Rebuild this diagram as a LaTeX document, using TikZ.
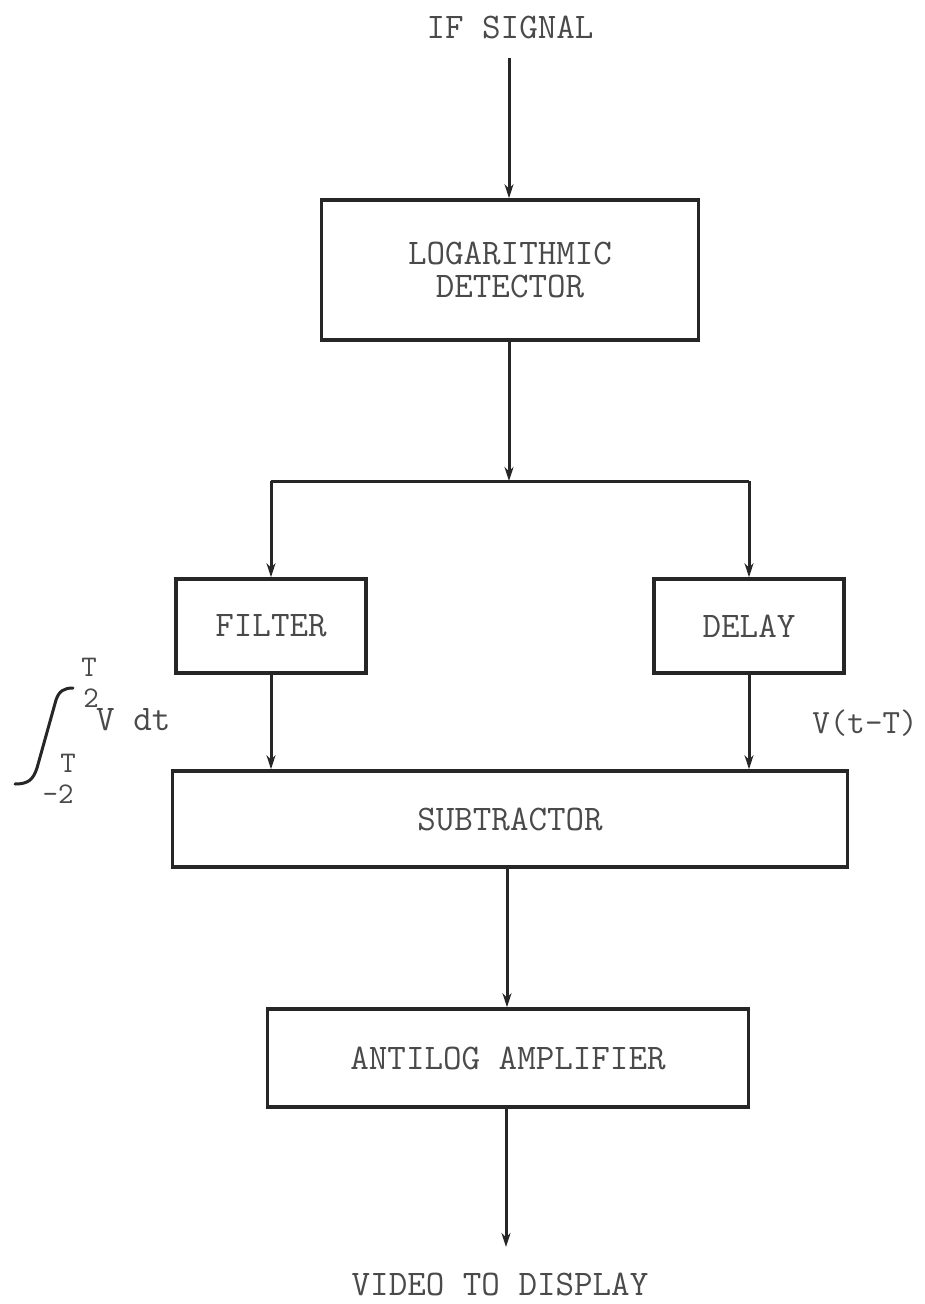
\documentclass[tikz,border=0pt]{standalone}
\usepackage{fontspec}
\usetikzlibrary{arrows.meta,positioning,calc}
\definecolor{dgInk}{HTML}{262626}
\definecolor{dgText}{HTML}{4A4A4A}
\tikzset{
  dgbox/.style={
    draw=dgInk, line width=3.6pt, minimum height=94pt, minimum width=190pt,
    font=\ttfamily\fontsize{36}{33}\selectfont, text=dgText, align=center,
    inner sep=0pt
  },
  dgtext/.style={font=\ttfamily\fontsize{36}{40}\selectfont, text=dgText, inner sep=0pt},
  dglimit/.style={font=\ttfamily\fontsize{30}{34}\selectfont, text=dgText, inner sep=0pt},
  dgflow/.style={-{Stealth[length=14pt,width=9pt]}, line width=3pt, dgInk},
  dgline/.style={line width=3pt, dgInk}
}
\begin{document}
\begin{tikzpicture}[x=1pt, y=-1pt]
  \useasboundingbox (0,0) rectangle (924,1304);
  % input and output labels
  \node[dgtext] (ifsig) at (510,27) {IF SIGNAL};
  \node[dgtext] (video) at (500,1284) {VIDEO TO DISPLAY};
  \coordinate (inp) at (509,58);
  \coordinate (outp) at (506,1247);
  \coordinate (split) at (509,481);
  % blocks
  \node[dgbox, minimum width=377pt, minimum height=140pt] (logdet) at (510,270) {LOGARITHMIC\\DETECTOR};
  \node[dgbox] (filter) at (271,626) {FILTER};
  \node[dgbox] (delay) at (749,626) {DELAY};
  \node[dgbox, minimum width=675pt, minimum height=96pt] (subtr) at (510,819) {SUBTRACTOR};
  \node[dgbox, minimum width=481pt, minimum height=98pt] (antilog) at (508,1058) {ANTILOG AMPLIFIER};
  % connectors
  \draw[dgflow] (inp) -- (inp |- logdet.north);
  \draw[dgflow] (split |- logdet.south) -- (split);
  \draw[dgline] (filter.north |- split) -- (delay.north |- split);
  \draw[dgflow] (filter.north |- split) -- (filter.north);
  \draw[dgflow] (delay.north |- split) -- (delay.north);
  \draw[dgflow] (filter.south) -- (filter.south |- subtr.north);
  \draw[dgflow] (delay.south) -- (delay.south |- subtr.north);
  \draw[dgflow] (507,0 |- subtr.south) -- (507,0 |- antilog.north);
  \draw[dgflow] (outp |- antilog.south) -- (outp);
  % integral label of the filter output
  \draw[dgline, line cap=round] (15,784) .. controls (28,784) and (33,780) .. (37,768)
    -- (56,700) .. controls (59,691) and (64,688) .. (73,688);
  \node[dglimit] (uplimT) at (89,667) {T};
  \node[dglimit] (uplim2) at (91,698) {2};
  \node[dgtext, anchor=west] (vdt) at (96,720) {V dt};
  \node[dglimit] (lowlimT) at (68,763) {T};
  \node[dglimit] (lowlim2) at (58,794) {-2};
  % delayed signal label
  \node[dgtext, font=\ttfamily\fontsize{34}{38}\selectfont] (vdel) at (865,723) {V(t-T)};
\end{tikzpicture}
\end{document}
